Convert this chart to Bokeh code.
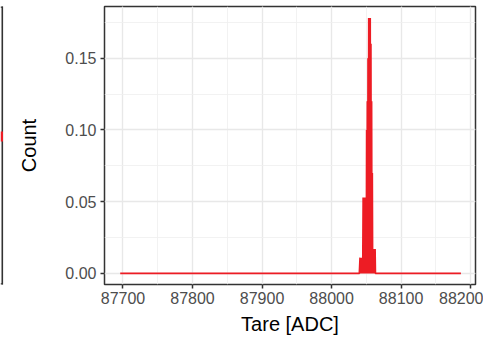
from bokeh.plotting import figure
from bokeh.layouts import row
from bokeh.models import Range1d, SingleIntervalTicker, NumeralTickFormatter
from bokeh.embed import file_html
from bokeh.resources import INLINE

# Data (tare readings vs. relative count)
tare = [87696, 88040, 88041, 88041.5, 88042, 88042.5, 88043, 88043.5, 88044, 88044.5,
        88045, 88045.5, 88046, 88046.5, 88047, 88047.5, 88048, 88048.5, 88049, 88049.5,
        88050, 88050.5, 88051, 88051.5, 88052, 88052.5, 88053, 88053.5, 88054, 88054.5,
        88055, 88055.5, 88056, 88056.5, 88057, 88057.5, 88058, 88058.5, 88059, 88059.5,
        88060, 88060.5, 88061, 88061.5, 88062, 88062.5, 88063, 88186]
count = [0.0, 0.0, 0.011, 0.0, 0.011, 0.0, 0.011, 0.0, 0.011, 0.0,
         0.011, 0.053, 0.0, 0.053, 0.0, 0.053, 0.0, 0.053, 0.0, 0.053,
         0.0, 0.10, 0.01, 0.12, 0.0, 0.15, 0.01, 0.178, 0.0, 0.178,
         0.0, 0.178, 0.0, 0.16, 0.0, 0.12, 0.0, 0.07, 0.0, 0.017,
         0.0, 0.017, 0.0, 0.017, 0.0, 0.017, 0.0, 0.0]
x_ticks = [87700, 87800, 87900, 88000, 88100, 88200]
y_ticks = [0.00, 0.05, 0.10, 0.15]

RED = "#ED1C24"
FONT = "Liberation Sans"

# Fragment of the neighbouring panel on the left
left = figure(width=4, height=338, output_backend="svg", toolbar_location=None,
              x_range=Range1d(0, 4), y_range=Range1d(338 - 54, 6),
              min_border_left=0, min_border_right=0, min_border_top=6, min_border_bottom=54)
left.axis.visible = False
left.grid.visible = False
left.outline_line_color = None
left.segment(x0=[1.8, 0, 0], y0=[5.5, 6.5, 283.5], x1=[1.8, 2.5, 2.5], y1=[284.5, 6.5, 283.5],
             line_color="#333333", line_width=1.6)
left.quad(left=[0], right=[2.5], top=[131], bottom=[141], fill_color=RED, line_color=None)

p = figure(width=479, height=338, output_backend="svg", toolbar_location=None,
           x_range=Range1d(87673.4, 88207), y_range=Range1d(-0.0077, 0.186),
           min_border_left=100, min_border_right=8, min_border_top=6, min_border_bottom=54)
p.background_fill_color = "white"
p.border_fill_color = "white"
p.outline_line_color = "#333333"
p.outline_line_width = 1.5

p.line(tare, count, line_color=RED, line_width=1.8)

p.xaxis.ticker = SingleIntervalTicker(interval=100, num_minor_ticks=2)
p.yaxis.ticker = SingleIntervalTicker(interval=0.05, num_minor_ticks=2)
p.xaxis.major_label_overrides = {t: str(t) for t in x_ticks}
p.yaxis.formatter = NumeralTickFormatter(format="0.00")

for ax in p.axis:
    ax.axis_line_color = None
    ax.major_tick_line_color = "#333333"
    ax.major_tick_line_width = 1.5
    ax.major_tick_out = 4
    ax.major_tick_in = 0
    ax.minor_tick_line_color = None
    ax.major_label_text_font = FONT
    ax.major_label_text_font_size = "16px"
    ax.major_label_text_color = "#4D4D4D"
    ax.axis_label_text_font = FONT
    ax.axis_label_text_font_size = "20px"
    ax.axis_label_text_font_style = "normal"
    ax.axis_label_text_color = "black"

p.xaxis.axis_label = "Tare [ADC]"
p.yaxis.axis_label = "Count"
p.xaxis.major_label_standoff = 3
p.yaxis.major_label_standoff = 4
p.xaxis.axis_label_standoff = 6
p.yaxis.axis_label_standoff = 22

for g in p.grid:
    g.grid_line_color = "#E8E8E8"
    g.grid_line_width = 1.4
    g.minor_grid_line_color = "#EFEFEF"
    g.minor_grid_line_width = 0.8

layout = row(left, p, spacing=0)
open("out.html", "w").write(file_html(layout, INLINE))
